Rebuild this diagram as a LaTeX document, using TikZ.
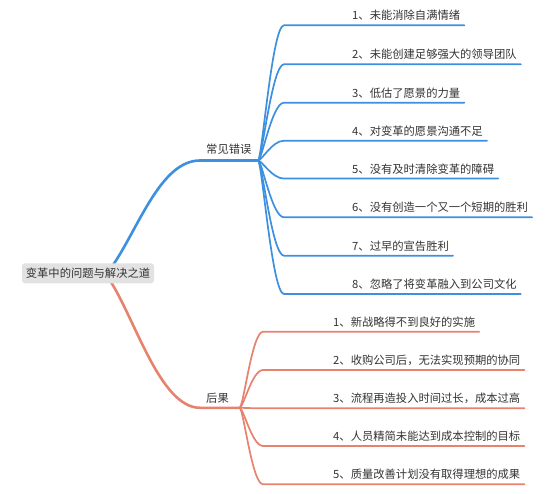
\documentclass[tikz,border=0pt]{standalone}
\usepackage{fontspec}
\newfontfamily\cjk{Noto Sans CJK SC}
\definecolor{bl}{HTML}{3D8FE0}
\definecolor{rd}{HTML}{E6826E}
\definecolor{tx}{HTML}{333333}
\definecolor{rootfill}{HTML}{E2E2E2}
\begin{document}
\begin{tikzpicture}[x=1pt,y=-1pt,
  txt/.style={font=\cjk\fontsize{11.3}{13}\selectfont, text=tx, inner sep=0pt, anchor=base west},
  bline/.style={draw=bl, line width=1.7pt, line cap=round},
  rline/.style={draw=rd, line width=1.7pt, line cap=round},
  mainline/.style={line width=2.6pt, line cap=round},
  rootbox/.style={fill=rootfill, rounded corners=3pt, minimum width=132pt, minimum height=20pt, inner sep=0pt, font=\cjk\fontsize{11.3}{13}\selectfont, text=tx}]
\useasboundingbox (0,0) rectangle (554,494);
\coordinate (hb) at (258,160.5);
\coordinate (hr) at (239.5,407.8);
\coordinate (rb) at (111,268);
\coordinate (rr) at (109,279);
\coordinate (mb) at (200,160.5);
\coordinate (mr) at (200,407.8);
% main branches
\draw[bline, mainline] (rb) .. controls (138,230) and (160,160.5) .. (mb) -- (hb);
\draw[rline, mainline] (rr) .. controls (135,318) and (160,407.8) .. (mr) -- (hr);
% root
\node[rootbox] (root) at (88,273.3) {变革中的问题与解决之道};
% hub labels
\node[txt] (lb) at (206,153.5) {常见错误};
\node[txt] (lr) at (206,402.6) {后果};
% blue items
\foreach \n/\y/\t in {1/25.3/{1、未能消除自满情绪},
                      2/64.3/{2、未能创建足够强大的领导团队},
                      3/102.7/{3、低估了愿景的力量},
                      4/140.7/{4、对变革的愿景沟通不足},
                      5/178.6/{5、没有及时清除变革的障碍},
                      6/217.3/{6、没有创造一个又一个短期的胜利},
                      7/255.7/{7、过早的宣告胜利},
                      8/294.0/{8、忽略了将变革融入到公司文化}} {
  \node[txt] (b\n) at (352,\y-5.4) {\t};
  \draw[bline] (hb) .. controls (262,160.5) and (272,\y) .. (284,\y) -- ([xshift=4pt]b\n.east |- 0,\y);
}
% red items
\foreach \n/\y/\t in {1/331.7/{1、新战略得不到良好的实施},
                      2/370.0/{2、收购公司后，无法实现预期的协同},
                      3/408.3/{3、流程再造投入时间过长，成本过高},
                      4/446.0/{4、人员精简未能达到成本控制的目标},
                      5/484.3/{5、质量改善计划没有取得理想的成果}} {
  \node[txt] (r\n) at (333,\y-5.5) {\t};
  \draw[rline] (hr) .. controls (243.5,407.8) and (252,\y) .. (263,\y) -- ([xshift=4pt]r\n.east |- 0,\y);
}
\end{tikzpicture}
\end{document}
